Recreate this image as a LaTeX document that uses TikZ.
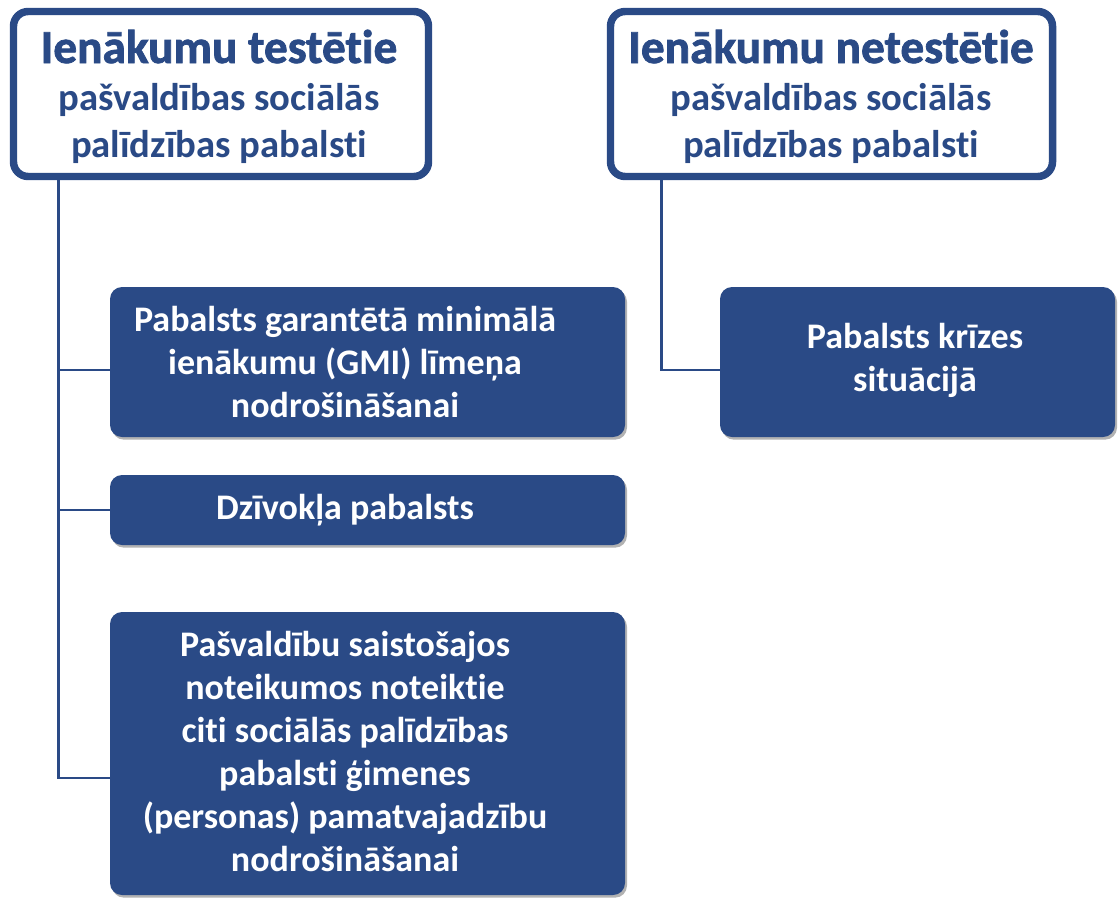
\documentclass[tikz,border=0pt]{standalone}
\usepackage{fontspec}
\setmainfont{Carlito}[Ligatures=NoCommon]
\newfontfamily\heavyfont{Carlito}[Ligatures=NoCommon, BoldFeatures={FakeBold=1.6}]
\usetikzlibrary{shadows}
\definecolor{navy}{HTML}{2A4A86}
\begin{document}
\begin{tikzpicture}[x=0.75pt,y=-0.75pt,
  titlebox/.style={draw=navy, line width=5.6pt, fill=white, rounded corners=11pt,
    drop shadow={shadow xshift=1.5pt, shadow yshift=-2pt, fill=black, opacity=0.25}},
  bluebox/.style={fill=navy, rounded corners=9pt, minimum width=386.25pt,
    drop shadow={shadow xshift=1.5pt, shadow yshift=-2pt, fill=black, opacity=0.3}},
  headtext/.style={anchor=base, text=navy, font=\heavyfont\fontsize{35.5}{40}\selectfont\bfseries, inner sep=0pt},
  subtext/.style={anchor=base, text=navy, font=\fontsize{29}{32}\selectfont\bfseries, inner sep=0pt},
  boxtext/.style={text=white, align=center, font=\fontsize{27}{32.25}\selectfont\bfseries, inner sep=0pt},
  conn/.style={draw=navy, line width=1.9pt}
]
\useasboundingbox (0,0) rectangle (1119,897);

% title boxes
\node[titlebox, minimum width=311.25pt, minimum height=123.75pt] (tt) at (221,94) {};
\node[titlebox, minimum width=331.5pt, minimum height=123.75pt] (nt) at (831.5,94) {};

\node[headtext] (tt1) at (219,63) {Ienākumu testētie};
\node[subtext] (tt2) at (219,110) {pašvaldības sociālās};
\node[subtext] (tt3) at (219,157) {palīdzības pabalsti};

\node[headtext] (nt1) at (831,63) {Ienākumu netestētie};
\node[subtext] (nt2) at (831,110) {pašvaldības sociālās};
\node[subtext] (nt3) at (831,157) {palīdzības pabalsti};

% blue boxes
\node[bluebox, minimum height=112.5pt] (gmi) at (367.5,362) {};
\node[bluebox, minimum height=52.5pt] (dz) at (367.5,510) {};
\node[bluebox, minimum height=212.25pt] (cit) at (367.5,753.5) {};
\node[bluebox, minimum width=296.25pt, minimum height=112.5pt] (kr) at (917.5,362) {};

\node[boxtext] (gmit) at (345,362) {Pabalsts garantētā minimālā\\ienākumu (GMI) līmeņa\\nodrošināšanai};
\node[boxtext] (dzt) at (345,510) {Dzīvokļa pabalsts};
\node[boxtext] (citt) at (345,751) {Pašvaldību saistošajos\\noteikumos noteiktie\\citi sociālās palīdzības\\pabalsti ģimenes\\(personas) pamatvajadzību\\nodrošināšanai};
\node[boxtext] (krt) at (915,360) {Pabalsts krīzes\\situācijā};

% connectors
\draw[conn] ([xshift=36.4pt]tt.south west) |- ([yshift=-6pt]gmi.west);
\draw[conn] ([xshift=36.4pt]tt.south west) |- (dz.west);
\draw[conn] ([xshift=36.4pt]tt.south west) |- ([yshift=-18.4pt]cit.west);
\draw[conn] ([xshift=40.9pt]nt.south west) |- ([yshift=-6pt]kr.west);
\end{tikzpicture}
\end{document}
